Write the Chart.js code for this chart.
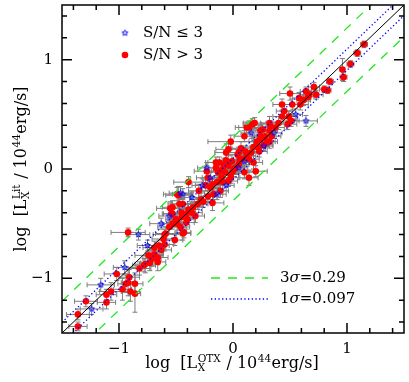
<!DOCTYPE html>
<html>
<head>
<meta charset="utf-8">
<script src="https://cdn.jsdelivr.net/npm/chart.js@4.4.1/dist/chart.umd.min.js"></script>
<style>
  html, body { margin: 0; padding: 0; background: #fff; }
  canvas { display: block; }
</style>
</head>
<body>
<canvas id="myChart" width="409" height="382"></canvas>
<script>
// [log Lx(OTX), log Lx(Lit), x error, y error]
const highSN = [
  [-1.36,-1.44,0.08,0.04], [-1.36,-1.33,0.10,0.05], [-1.29,-1.21,0.10,0.05],
  [-1.11,-1.15,0.09,0.05], [-1.11,-1.22,0.08,0.06], [-1.07,-1.12,0.10,0.08],
  [-1.02,-0.96,0.11,0.06], [-0.97,-1.10,0.08,0.10], [-0.94,-1.05,0.07,0.08],
  [-0.92,-1.04,0.06,0.12], [-0.91,-0.99,0.09,0.07], [-0.90,-1.12,0.08,0.09],
  [-0.86,-1.05,0.07,0.10], [-0.86,-1.14,0.05,0.17], [-0.92,-0.58,0.15,0.04],
  [-0.82,-0.91,0.10,0.06], [-0.77,-0.87,0.09,0.08], [-0.73,-0.86,0.08,0.07],
  [-0.78,-0.88,0.10,0.06], [-0.74,-0.79,0.12,0.05], [-0.71,-0.82,0.08,0.07],
  [-0.66,-0.81,0.09,0.06], [-0.66,-0.85,0.07,0.08], [-0.69,-0.72,0.10,0.06],
  [-0.69,-0.78,0.08,0.05], [-0.65,-0.70,0.09,0.05], [-0.60,-0.69,0.08,0.06],
  [-0.61,-0.64,0.10,0.05], [-0.59,-0.59,0.09,0.06], [-0.51,-0.65,0.07,0.05],
  [-0.56,-0.53,0.10,0.06], [-0.53,-0.50,0.09,0.05], [-0.49,-0.50,0.08,0.06],
  [-0.55,-0.36,0.12,0.06], [-0.53,-0.41,0.08,0.05], [-0.48,-0.24,0.11,0.08],
  [-0.44,-0.59,0.07,0.06], [-0.47,-0.32,0.10,0.06], [-0.50,-0.46,0.09,0.05],
  [-0.41,-0.41,0.08,0.05], [-0.43,-0.58,0.06,0.05], [-0.46,-0.53,0.08,0.07],
  [-0.41,-0.49,0.07,0.06], [-0.39,-0.37,0.09,0.05], [-0.45,-0.44,0.08,0.05],
  [-0.39,-0.12,0.13,0.05], [-0.49,-0.23,0.12,0.06], [-0.22,-0.08,0.10,0.06],
  [-0.24,-0.15,0.09,0.05], [-0.20,-0.17,0.08,0.06], [-0.23,-0.02,0.11,0.05],
  [-0.13,-0.03,0.10,0.06], [-0.15,0.01,0.09,0.07], [-0.12,0.06,0.10,0.05],
  [-0.08,0.04,0.08,0.06], [-0.06,0.08,0.09,0.05], [-0.09,-0.12,0.07,0.06],
  [-0.17,-0.23,0.08,0.05], [-0.18,-0.31,0.10,0.07], [-0.11,-0.20,0.07,0.06],
  [-0.04,-0.11,0.08,0.05], [-0.02,-0.05,0.07,0.06], [0.01,0.00,0.06,0.05],
  [-0.06,0.15,0.10,0.08], [-0.04,0.18,0.11,0.06], [-0.44,-0.32,0.10,0.05],
  [-0.53,-0.35,0.09,0.06], [-0.54,-0.41,0.08,0.05], [-0.45,-0.40,0.07,0.06],
  [-0.31,-0.32,0.09,0.05], [-0.33,-0.43,0.08,0.06], [-0.40,-0.46,0.07,0.05],
  [-0.28,-0.28,0.10,0.06], [-0.22,-0.25,0.08,0.05], [-0.02,0.25,0.20,0.06],
  [0.19,0.42,0.10,0.05], [0.14,0.38,0.09,0.06], [0.32,0.42,0.08,0.06],
  [0.33,0.39,0.07,0.05], [0.24,0.35,0.09,0.05], [0.07,0.19,0.08,0.06],
  [0.05,0.15,0.10,0.05], [0.11,0.16,0.08,0.05], [0.16,0.15,0.07,0.06],
  [0.14,0.09,0.09,0.05], [0.18,0.06,0.08,0.06], [0.23,0.16,0.07,0.05],
  [0.27,0.22,0.08,0.05], [0.32,0.25,0.07,0.06], [0.24,0.27,0.06,0.05],
  [0.08,0.09,0.08,0.05], [0.05,0.04,0.09,0.06], [0.02,0.01,0.07,0.05],
  [-0.01,0.07,0.08,0.06], [-0.04,0.03,0.06,0.05], [-0.09,0.00,0.08,0.05],
  [-0.12,-0.02,0.07,0.06], [-0.07,-0.03,0.08,0.05], [-0.15,0.06,0.09,0.05],
  [-0.02,-0.08,0.07,0.05], [0.10,-0.03,0.09,0.06], [0.14,-0.08,0.08,0.07],
  [0.20,-0.02,0.10,0.05], [0.04,0.13,0.08,0.05], [0.50,0.69,0.09,0.06],
  [0.43,0.59,0.08,0.05], [0.45,0.53,0.07,0.06], [0.52,0.59,0.08,0.05],
  [0.59,0.59,0.07,0.05], [0.58,0.65,0.06,0.05], [0.71,0.75,0.05,0.04],
  [0.67,0.68,0.05,0.04], [0.73,0.68,0.06,0.04], [0.62,0.63,0.06,0.05],
  [0.43,0.48,0.08,0.05], [0.40,0.42,0.07,0.06], [0.48,0.41,0.08,0.05],
  [0.51,0.44,0.07,0.05], [0.37,0.38,0.08,0.05], [0.32,0.35,0.07,0.06],
  [0.34,0.30,0.08,0.05], [0.30,0.25,0.07,0.05], [0.26,0.36,0.06,0.05],
  [0.24,0.30,0.07,0.05], [0.17,0.41,0.08,0.05], [0.21,0.25,0.07,0.06],
  [0.10,0.30,0.09,0.05], [0.49,0.48,0.07,0.05], [1.15,1.14,0.03,0.03],
  [1.09,1.06,0.03,0.03], [1.03,0.96,0.03,0.03], [0.96,0.91,0.02,0.10],
  [0.97,0.84,0.03,0.04], [0.85,0.80,0.03,0.03], [0.80,0.73,0.04,0.03],
  [0.83,0.72,0.03,0.03], [0.66,0.66,0.05,0.04], [0.64,0.71,0.05,0.04],
  [0.12,0.38,0.10,0.05], [-0.30,-0.20,0.09,0.06], [-0.26,-0.30,0.08,0.05],
  [-0.18,-0.14,0.07,0.05], [-0.14,-0.12,0.08,0.06], [-0.10,-0.08,0.07,0.05],
  [0.00,-0.02,0.08,0.05], [0.06,0.08,0.07,0.05], [0.12,0.12,0.08,0.05],
  [0.18,0.20,0.07,0.05], [0.22,0.20,0.06,0.05], [0.28,0.30,0.07,0.05],
  [-0.35,-0.35,0.08,0.05], [-0.36,-0.40,0.09,0.05], [-0.60,-0.60,0.10,0.05],
  [-0.63,-0.74,0.09,0.05]
]

const lowSN = [
  [-1.24,-1.28,0.10,0.05], [-1.16,-1.06,0.12,0.06], [-0.83,-0.60,0.10,0.05],
  [-0.46,-0.22,0.10,0.06], [-0.27,-0.15,0.09,0.06], [-0.36,-0.26,0.10,0.05],
  [0.16,0.33,0.09,0.05], [0.64,0.44,0.10,0.05], [-0.23,0.01,0.08,0.05],
  [-0.20,-0.08,0.07,0.05], [-0.44,-0.23,0.09,0.05], [-0.56,-0.43,0.09,0.06],
  [-0.63,-0.50,0.10,0.05], [-0.14,-0.23,0.08,0.05], [-0.06,-0.15,0.07,0.05],
  [0.05,0.01,0.08,0.05], [0.10,0.07,0.07,0.05], [0.27,0.21,0.08,0.05],
  [0.36,0.33,0.07,0.05], [0.55,0.50,0.06,0.05], [-0.75,-0.70,0.09,0.05],
  [-0.95,-0.90,0.10,0.06]
]

const axisRange = [-1.5, 1.5]
const tickLabels = [-1, 0, 1]
const sigma1 = 0.097
const sigma3 = 0.29

const FONT = '"DejaVu Serif", serif'
const GREEN = '#22e622'
const BLUE = '#0000ff'

function make_star(r, color){
    let c = document.createElement('canvas')
    c.width = c.height = 2 * r + 3
    let g = c.getContext('2d')
    g.strokeStyle = color
    g.lineWidth = 1
    g.beginPath()
    for (let i = 0; i < 10; i++){
        let a = -Math.PI / 2 + i * Math.PI / 5
        let rr = i % 2 ? r * 0.45 : r
        g.lineTo(c.width / 2 + rr * Math.cos(a), c.height / 2 + rr * Math.sin(a))
    }
    g.closePath()
    g.stroke()
    return c
}
const starImg = make_star(3, BLUE)

function to_points(rows){ return rows.map(r => ({x: r[0], y: r[1]})) }
function to_errors(rows){ return rows.map(r => [r[2], r[3]]) }
function offset_line(d){ return axisRange.map(v => ({x: v, y: v + d})) }

// pieces: {t} normal text, {sup} superscript, {sub, sup} stacked
function rich_text(ctx, parts, cx, cy){
    const big = '16px ' + FONT, small = '10.5px ' + FONT
    let widths = parts.map(p => {
        if (p.t !== undefined){
            ctx.font = big
            return ctx.measureText(p.t).width
        }
        ctx.font = small
        return Math.max(ctx.measureText(p.sup || '').width, ctx.measureText(p.sub || '').width) + 1
    })
    let total = widths.reduce((a, b) => a + b, 0)
    let x = cx - total / 2
    ctx.textBaseline = 'alphabetic'
    ctx.textAlign = 'left'
    parts.forEach((p, i) => {
        if (p.t !== undefined){
            ctx.font = big
            ctx.fillText(p.t, x, cy)
        } else {
            ctx.font = small
            if (p.sub) ctx.fillText(p.sub, x + 0.5, cy + 3)
            if (p.sup) ctx.fillText(p.sup, x + 0.5, cy - 6)
        }
        x += widths[i]
    })
}

const errorBars = {
    id: 'errorBars',
    beforeDatasetsDraw(chart){
        const {ctx, scales: {x, y}} = chart
        ctx.save()
        ctx.strokeStyle = '#7d7d7d'
        ctx.lineWidth = 1
        const cap = 2.5
        chart.data.datasets.forEach(ds => {
            if (!ds.errors) return
            ds.data.forEach((p, i) => {
                const [xe, ye] = ds.errors[i]
                const px = x.getPixelForValue(p.x), py = y.getPixelForValue(p.y)
                const x0 = x.getPixelForValue(p.x - xe), x1 = x.getPixelForValue(p.x + xe)
                const y0 = y.getPixelForValue(p.y - ye), y1 = y.getPixelForValue(p.y + ye)
                ctx.beginPath()
                ctx.moveTo(x0, py); ctx.lineTo(x1, py)
                ctx.moveTo(x0, py - cap); ctx.lineTo(x0, py + cap)
                ctx.moveTo(x1, py - cap); ctx.lineTo(x1, py + cap)
                ctx.moveTo(px, y0); ctx.lineTo(px, y1)
                ctx.moveTo(px - cap, y0); ctx.lineTo(px + cap, y0)
                ctx.moveTo(px - cap, y1); ctx.lineTo(px + cap, y1)
                ctx.stroke()
            })
        })
        ctx.restore()
    }
}

const frame = {
    id: 'frame',
    afterDraw(chart){
        const {ctx, chartArea: a, scales: {x, y}} = chart
        ctx.save()
        ctx.strokeStyle = '#000'
        ctx.lineWidth = 1.5
        ctx.strokeRect(a.left, a.top, a.right - a.left, a.bottom - a.top)

        // inward ticks on all four sides
        ctx.beginPath()
        for (let k = -7; k <= 7; k++){
            let v = k / 5
            let len = k % 5 == 0 ? 10 : 5
            let px = x.getPixelForValue(v), py = y.getPixelForValue(v)
            ctx.moveTo(px, a.bottom); ctx.lineTo(px, a.bottom - len)
            ctx.moveTo(px, a.top); ctx.lineTo(px, a.top + len)
            ctx.moveTo(a.left, py); ctx.lineTo(a.left + len, py)
            ctx.moveTo(a.right, py); ctx.lineTo(a.right - len, py)
        }
        ctx.stroke()

        ctx.fillStyle = '#000'
        ctx.font = '15px ' + FONT
        ctx.textBaseline = 'middle'
        tickLabels.forEach(v => {
            let s = v < 0 ? '\u2212' + Math.abs(v) : String(v)
            ctx.textAlign = 'center'
            ctx.fillText(s, x.getPixelForValue(v), a.bottom + 16)
            ctx.textAlign = 'right'
            ctx.fillText(s, a.left - 9, y.getPixelForValue(v))
        })

        // axis titles
        rich_text(ctx, [{t: 'log  [L'}, {sub: 'X', sup: 'OTX'}, {t: ' / 10'}, {sup: '44'}, {t: 'erg/s]'}],
            232, 368)
        ctx.save()
        ctx.translate(26, 169)
        ctx.rotate(-Math.PI / 2)
        rich_text(ctx, [{t: 'log  [L'}, {sub: 'X', sup: 'Lit'}, {t: ' / 10'}, {sup: '44'}, {t: 'erg/s]'}], 0, 0)
        ctx.restore()

        // legend, top left
        ctx.drawImage(starImg, 125 - starImg.width / 2, 33 - starImg.height / 2)
        ctx.fillStyle = '#ff0000'
        ctx.beginPath(); ctx.arc(125, 55, 3.3, 0, Math.PI * 2); ctx.fill()
        ctx.fillStyle = '#000'
        ctx.font = '15px ' + FONT
        ctx.textAlign = 'left'
        ctx.textBaseline = 'middle'
        ctx.fillText('S/N \u2264 3', 143, 33)
        ctx.fillText('S/N > 3', 143, 55)

        // legend, bottom right
        ctx.lineWidth = 1.3
        ctx.strokeStyle = GREEN
        ctx.setLineDash([9, 8])
        ctx.beginPath(); ctx.moveTo(211, 278); ctx.lineTo(268, 278); ctx.stroke()
        ctx.strokeStyle = BLUE
        ctx.setLineDash([1.3, 2.4])
        ctx.beginPath(); ctx.moveTo(211, 299); ctx.lineTo(268, 299); ctx.stroke()
        ctx.setLineDash([])
        const sig = (n, val, yy) => {
            let xx = 280
            ctx.font = '15px ' + FONT
            ctx.fillText(n, xx, yy); xx += ctx.measureText(n).width
            ctx.font = 'italic 15px ' + FONT
            ctx.fillText('\u03c3', xx, yy); xx += ctx.measureText('\u03c3').width
            ctx.font = '15px ' + FONT
            ctx.fillText('=' + val, xx, yy)
        }
        sig('3', sigma3, 278)
        sig('1', sigma1, 299)
        ctx.restore()
    }
}

const lineBase = {type: 'line', showLine: true, pointRadius: 0, fill: false, order: 1}

new Chart(document.getElementById('myChart'), {
    type: 'scatter',
    data: {
        datasets: [
            {...lineBase, data: offset_line(0), borderColor: '#000', borderWidth: 1},
            {...lineBase, data: offset_line(sigma3), borderColor: GREEN, borderWidth: 1.3, borderDash: [9, 8]},
            {...lineBase, data: offset_line(-sigma3), borderColor: GREEN, borderWidth: 1.3, borderDash: [9, 8]},
            {...lineBase, data: offset_line(sigma1), borderColor: BLUE, borderWidth: 1.3, borderDash: [1.3, 2.4]},
            {...lineBase, data: offset_line(-sigma1), borderColor: BLUE, borderWidth: 1.3, borderDash: [1.3, 2.4]},
            {
                data: to_points(highSN), errors: to_errors(highSN), order: 3,
                pointRadius: 3.3, pointBackgroundColor: '#ff0000', pointBorderWidth: 0
            },
            {
                data: to_points(lowSN), errors: to_errors(lowSN), order: 2,
                pointStyle: starImg, pointRadius: 3
            }
        ]
    },
    options: {
        responsive: false,
        animation: false,
        devicePixelRatio: 1,
        layout: {padding: {left: 62, right: 3, top: 4, bottom: 49}},
        plugins: {legend: {display: false}, tooltip: {enabled: false}},
        scales: {
            x: {type: 'linear', min: axisRange[0], max: axisRange[1], display: false},
            y: {type: 'linear', min: axisRange[0], max: axisRange[1], display: false}
        }
    },
    plugins: [errorBars, frame]
})
</script>
</body>
</html>
